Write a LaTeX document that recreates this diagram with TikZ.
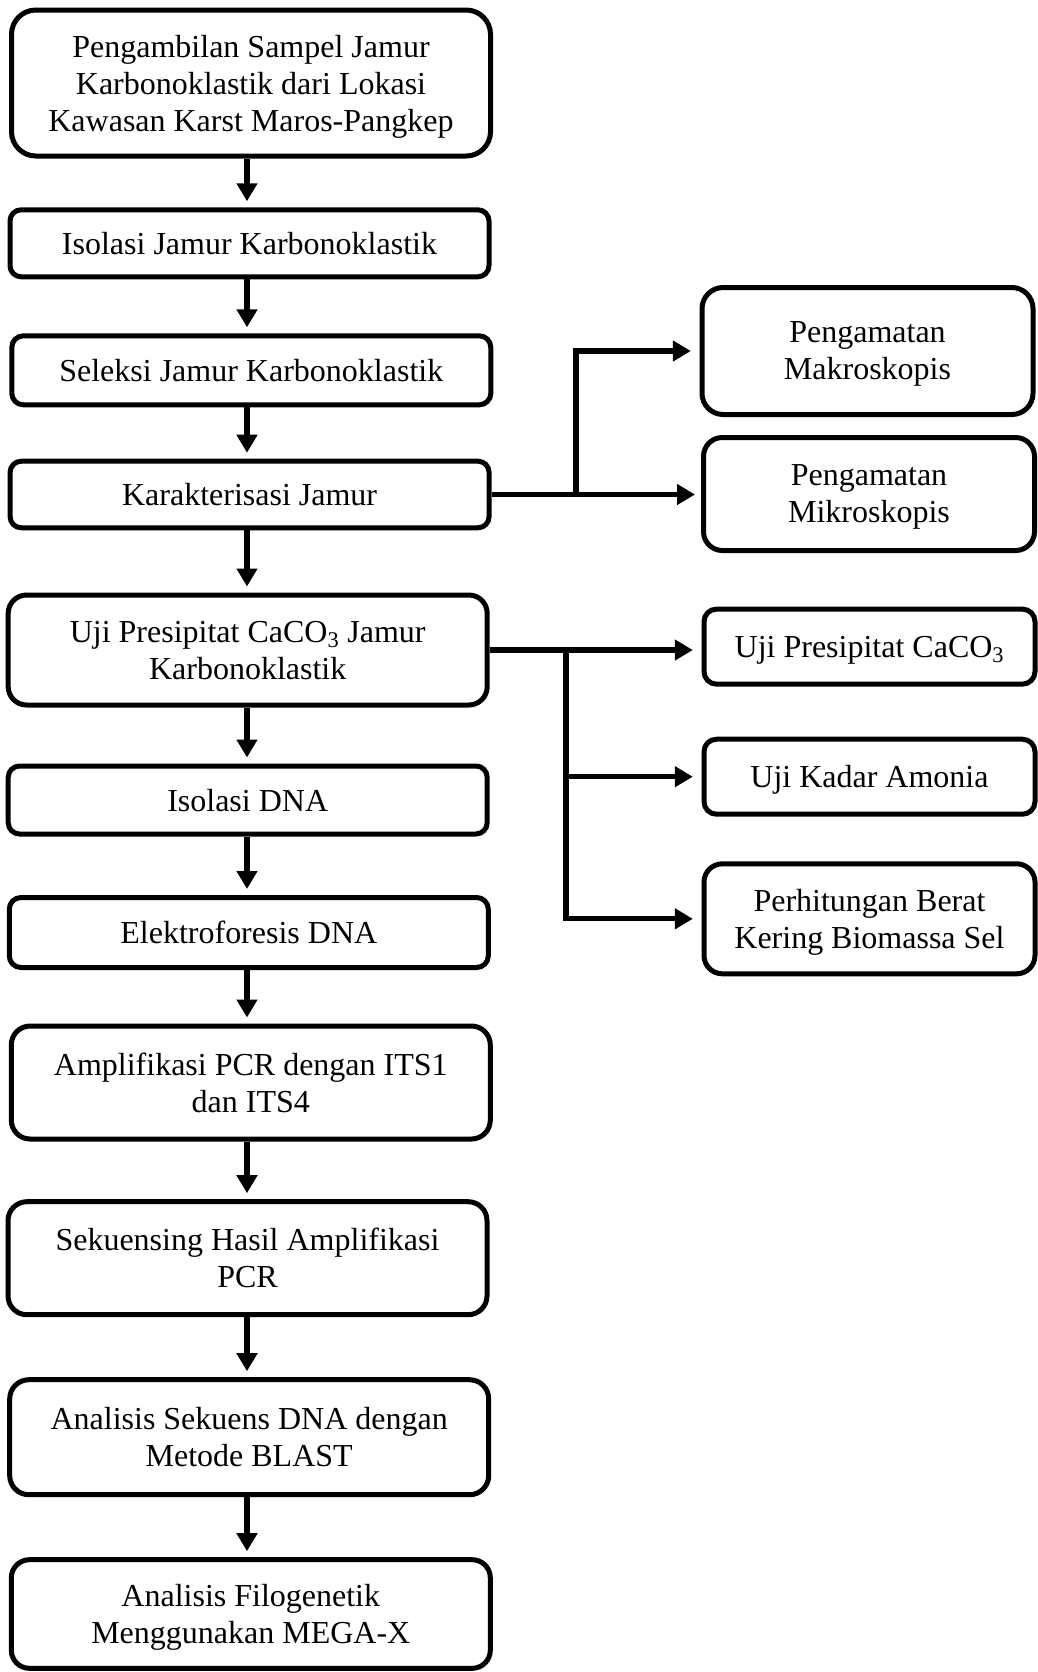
\documentclass[tikz,border=0pt]{standalone}
\usepackage{fontspec}
\setmainfont{Liberation Serif}
\usetikzlibrary{arrows.meta}
\begin{document}
\begin{tikzpicture}[x=0.75pt,y=-0.75pt,
  procbox/.style 2 args={draw, line width=3.75pt, rounded corners=#2/6,
    minimum width=#1, minimum height=#2, inner sep=0pt, align=center,
    text depth=0pt, font=\fontsize{24}{27.75}\selectfont},
  leftbox/.style={procbox={359.25pt}{#1}},
  rightbox/.style={procbox={248.25pt}{#1}},
  arr/.style={line width=4pt, -{Triangle[length=13.5pt,width=15pt]}, shorten >=4.5pt},
  branch/.style={arr, shorten >=6.5pt}]

\useasboundingbox (0,0) rectangle (1038,1672);

% main column
\node[leftbox=109.5pt] (k1) at (251,83) {Pengambilan Sampel Jamur\\Karbonoklastik dari Lokasi\\Kawasan Karst Maros-Pangkep};
\node[leftbox=50.25pt] (k2) at (249.5,243.3) {Isolasi Jamur Karbonoklastik};
\node[leftbox=51.75pt] (k3) at (251.3,370.3) {Seleksi Jamur Karbonoklastik};
\node[leftbox=49.9pt] (k4) at (249.6,494.5) {Karakterisasi Jamur};
\node[leftbox=82.5pt] (k5) at (247.7,650) {Uji Presipitat CaCO\textsubscript{3} Jamur\\Karbonoklastik};
\node[leftbox=51pt] (k6) at (247.7,800) {Isolasi DNA};
\node[leftbox=52.5pt] (k7) at (248.8,932.5) {Elektroforesis DNA};
\node[leftbox=84.75pt] (k8) at (250.8,1082.5) {Amplifikasi PCR dengan ITS1\\dan ITS4};
\node[leftbox=84.75pt] (k9) at (247.5,1258.2) {Sekuensing Hasil Amplifikasi\\PCR};
\node[leftbox=86.25pt] (k10) at (249.2,1437.2) {Analisis Sekuens DNA dengan\\Metode BLAST};
\node[leftbox=81.45pt] (k11) at (250.8,1614) {Analisis Filogenetik\\Menggunakan MEGA-X};

% side branches
\node[rightbox=95.25pt] (makro) at (867.5,351) {Pengamatan\\Makroskopis};
\node[rightbox=84.75pt] (mikro) at (869,494) {Pengamatan\\Mikroskopis};
\node[rightbox=56.25pt] (caco) at (869.5,646.6) {Uji Presipitat CaCO\textsubscript{3}};
\node[rightbox=56.25pt] (kadar) at (869.5,776.7) {Uji Kadar Amonia};
\node[rightbox=82.5pt] (perh) at (869.5,918.8) {Perhitungan Berat\\Kering Biomassa Sel};

\coordinate (spine) at (247,0);
\coordinate (j1) at (576,494.5);
\coordinate (j2) at (566,650);

% main sequence arrows
\foreach \a/\b in {k1/k2,k2/k3,k3/k4,k4/k5,k5/k6,k6/k7,k7/k8,k8/k9,k9/k10,k10/k11}
  \draw[arr] (\a.south -| spine) -- (\b.north -| spine);

% characterisation branch
\draw[branch] (k4.east) -- (j1) |- (makro.west);
\draw[arr] (j1) -- (j1 -| mikro.west);

% precipitation branch
\draw[branch] (k5.east) -- (j2) -- (j2 -| caco.west);
\draw[branch] (j2) |- (kadar.west);
\draw[branch] (j2) |- (perh.west);
\end{tikzpicture}
\end{document}
